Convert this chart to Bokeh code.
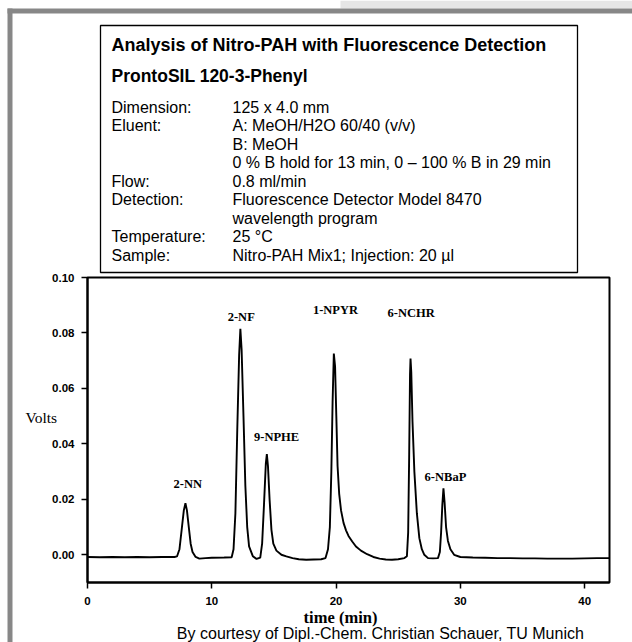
from bokeh.plotting import figure
from bokeh.models import Range1d, FixedTicker, NumeralTickFormatter, Label, BoxAnnotation
from bokeh.core.properties import value
from bokeh.embed import file_html
from bokeh.resources import INLINE

# ---- chromatogram trace (time in min, signal in volts) ----
time_min = [0.0, 1.0, 2.0, 3.0, 4.0, 5.0, 6.0, 7.0, 7.2, 7.4, 7.6, 7.75, 7.88, 8.0, 8.15, 8.3, 8.45,
            8.7, 9.0, 9.5, 10.0, 11.0, 11.6, 11.75, 11.9, 12.05, 12.2, 12.3, 12.4, 12.55, 12.7, 12.85,
            13.0, 13.3, 13.6, 13.9, 14.05, 14.2, 14.35, 14.43, 14.52, 14.65, 14.8, 14.95, 15.2, 15.6,
            16.0, 16.5, 17.0, 17.6, 18.2, 18.8, 19.15, 19.35, 19.5, 19.62, 19.72, 19.82, 19.92, 20.02,
            20.12, 20.25, 20.4, 20.6, 20.8, 21.0, 21.3, 21.6, 22.0, 22.5, 23.0, 23.5, 24.0, 24.5, 25.0,
            25.5, 25.7, 25.8, 25.88, 25.95, 25.99, 26.05, 26.15, 26.3, 26.5, 26.7, 26.9, 27.1, 27.4,
            27.8, 28.2, 28.35, 28.45, 28.55, 28.64, 28.73, 28.85, 29.0, 29.2, 29.5, 30.0, 31.0, 32.0,
            33.0, 34.0, 35.0, 36.0, 37.0, 38.0, 39.0, 40.0, 41.0, 42.0]
volts = [-0.0008, -0.0009, -0.0008, -0.0009, -0.0008, -0.0009, -0.0008, -0.0008, -0.0006, 0.002,
         0.010, 0.016, 0.0186, 0.016, 0.010, 0.004, 0.001,
         -0.0008, -0.0014, -0.0012, -0.0011, -0.0010, -0.0009, 0.002, 0.015, 0.045, 0.072, 0.0815,
         0.074, 0.050, 0.025, 0.010,
         0.003, -0.0005, -0.0015, -0.0010, 0.004, 0.018, 0.033, 0.0363, 0.032, 0.020, 0.009, 0.004,
         0.0015, 0.0,
         -0.0006, -0.0012, -0.0016, -0.0018, -0.0017, -0.0016, -0.0012, 0.002, 0.010, 0.030, 0.055,
         0.0726, 0.068, 0.050,
         0.032, 0.022, 0.016, 0.0115, 0.0088, 0.0068, 0.0048, 0.0030, 0.0015, 0.0002, -0.0008,
         -0.0014, -0.0017, -0.0018, -0.0016,
         -0.0012, -0.0005, 0.008, 0.035, 0.065, 0.0708, 0.066, 0.048, 0.030, 0.015, 0.006, 0.002,
         0.000, -0.0012,
         -0.0013, -0.0012, 0.001, 0.008, 0.018, 0.024, 0.019, 0.010, 0.005, 0.002, 0.000, -0.0008,
         -0.0010, -0.0011,
         -0.0012, -0.0012, -0.0013, -0.0013, -0.0014, -0.0014, -0.0014, -0.0013, -0.0012, -0.0012]

# ---- peak annotations ----
peak_names = ["2-NN", "2-NF", "9-NPHE", "1-NPYR", "6-NCHR", "6-NBaP"]
peak_label_t = [8.07, 12.37, 15.21, 19.95, 26.04, 28.80]
peak_label_v = [0.0256, 0.0857, 0.0423, 0.0884, 0.0871, 0.0282]

# ---- axes ----
x_min, x_max = 0, 42
y_min, y_max = -0.01, 0.10
x_ticks = [0, 10, 20, 30, 40]
y_ticks = [0.0, 0.02, 0.04, 0.06, 0.08, 0.10]

# ---- info box texts ----
info_title = "Analysis of Nitro-PAH with Fluorescence Detection"
info_column = "ProntoSIL 120-3-Phenyl"
info_keys = ["Dimension:", "Eluent:", "", "", "Flow:", "Detection:", "", "Temperature:", "Sample:"]
info_values = ["125 x 4.0 mm", "A: MeOH/H2O 60/40 (v/v)", "B: MeOH",
               "0 % B hold for 13 min, 0 \u2013 100 % B in 29 min", "0.8 ml/min",
               "Fluorescence Detector Model 8470", "wavelength program", "25 \u00b0C",
               "Nitro-PAH Mix1; Injection: 20 \u00b5l"]
x_label = "time (min)"
y_label = "Volts"
credit = "By courtesy of Dipl.-Chem. Christian Schauer, TU Munich"

# ---- layout (canvas pixels) ----
W, H = 632, 642
FL, FR, FT, FB = 87, 609, 277, 582   # chart box inside the canvas

sx = (x_max - x_min) / (FR - FL)
sy = (y_max - y_min) / (FB - FT)
x_rng = Range1d(x_min - FL * sx, x_max + (W - FR) * sx)
y_rng = Range1d(y_min - (H - FB) * sy, y_max + FT * sy)

p = figure(width=W, height=H, output_backend="svg", toolbar_location=None, title=None,
           x_range=x_rng, y_range=y_rng,
           min_border_left=0, min_border_right=0, min_border_top=0, min_border_bottom=0)
p.background_fill_color = "white"
p.border_fill_color = "white"
p.outline_line_color = None
p.xgrid.visible = False
p.ygrid.visible = False

p.xaxis.fixed_location = y_min
p.yaxis.fixed_location = x_min
p.xaxis.bounds = (x_min, x_max)
p.yaxis.bounds = (y_min, y_max)

for ax, ticks, fmt, standoff in ((p.xaxis[0], x_ticks, "0", 8), (p.yaxis[0], y_ticks, "0.00", 7)):
    ax.ticker = FixedTicker(ticks=ticks)
    ax.formatter = NumeralTickFormatter(format=fmt)
    ax.major_label_text_font = "Liberation Sans"
    ax.major_label_text_font_style = "bold"
    ax.major_label_text_font_size = "11.5px"
    ax.major_label_text_color = "black"
    ax.major_tick_out = 6
    ax.major_tick_in = 0
    ax.minor_tick_out = 0
    ax.minor_tick_in = 0
    ax.axis_line_width = 2
    ax.axis_line_color = "black"
    ax.major_tick_line_width = 1.5
    ax.major_tick_line_color = "black"
    ax.major_label_standoff = standoff

# chart box
p.quad(left=[x_min], right=[x_max], bottom=[y_min], top=[y_max],
       fill_color=None, line_color="black", line_width=2)

p.line(time_min, volts, line_color="black", line_width=1.9)

p.text(x=peak_label_t, y=peak_label_v, text=peak_names, text_font=value("Liberation Serif"),
       text_font_style="bold", text_font_size="12.5px", text_align="center",
       text_baseline="middle", text_color="black")

def cbox(l, r, t, b, **kw):
    p.add_layout(BoxAnnotation(left=l, right=r, top=t, bottom=b,
                               left_units="canvas", right_units="canvas",
                               top_units="canvas", bottom_units="canvas", **kw))

grey = "#878787"
cbox(340, W, 0, 8, fill_color="#e6e6e6", fill_alpha=1, line_alpha=0)
cbox(7, 12, 8, H, fill_color=grey, fill_alpha=1, line_alpha=0)
cbox(7, W, 8, 13, fill_color=grey, fill_alpha=1, line_alpha=0)
cbox(100, 577, 25, 272, fill_color="white", fill_alpha=1, line_color="black",
     line_alpha=1, line_width=1.3)

def clabel(x, y, text, size, font="Liberation Sans", style="normal", align="left"):
    p.add_layout(Label(x=x, y=y, x_units="canvas", y_units="canvas", text=text,
                       text_font=font, text_font_size=size, text_font_style=style,
                       text_align=align, text_baseline="middle", text_color="black"))

clabel(111, 44, info_title, "18px", style="bold")
clabel(111, 75, info_column, "17.5px", style="bold")
row_y = 106.5
for k, v in zip(info_keys, info_values):
    if k:
        clabel(111, row_y, k, "16px")
    clabel(232, row_y, v, "16px")
    row_y += 18.5

clabel(25, 417, y_label, "15.5px", font="Liberation Serif")
clabel(340, 617, x_label, "16.5px", font="Liberation Serif", style="bold", align="center")
clabel(380, 633, credit, "16px", align="center")

open("out.html", "w").write(file_html(p, INLINE))
